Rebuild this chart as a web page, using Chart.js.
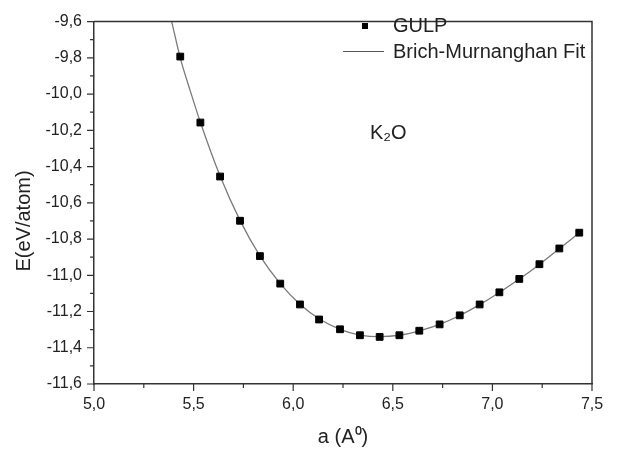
<!DOCTYPE html>
<html>
<head>
<meta charset="utf-8">
<script src="https://cdn.jsdelivr.net/npm/chart.js@4/dist/chart.umd.min.js"></script>
<style>
  html, body { margin: 0; padding: 0; background: #fff; }
  #wrap { width: 617px; height: 455px; }
</style>
</head>
<body>
<div id="wrap"><canvas id="c" width="617" height="455"></canvas></div>
<script>
// GULP points
const latticeA = [5.433, 5.534, 5.633, 5.733, 5.833, 5.935, 6.034, 6.13, 6.235, 6.335, 6.434,
  6.533, 6.633, 6.735, 6.836, 6.936, 7.035, 7.135, 7.236, 7.336, 7.436];
const energy = [-9.793, -10.157, -10.455, -10.699, -10.894, -11.046, -11.161, -11.244, -11.298, -11.331, -11.340,
  -11.331, -11.306, -11.271, -11.221, -11.161, -11.094, -11.020, -10.939, -10.852, -10.765];

// Birch-Murnaghan fit curve
const fitA = [5.39, 5.433, 5.484, 5.534, 5.633, 5.733, 5.833, 5.935, 6.034, 6.134, 6.235, 6.335, 6.434,
  6.533, 6.633, 6.735, 6.836, 6.936, 7.035, 7.135, 7.236, 7.336, 7.44];
const fitE = [-9.60, -9.800, -9.985, -10.155, -10.452, -10.697, -10.893, -11.046, -11.160, -11.243, -11.298, -11.330, -11.339,
  -11.331, -11.307, -11.271, -11.222, -11.162, -11.095, -11.021, -10.940, -10.853, -10.763];

const xMajor = [5.0, 5.5, 6.0, 6.5, 7.0, 7.5];
const yMajor = [-9.6, -9.8, -10.0, -10.2, -10.4, -10.6, -10.8, -11.0, -11.2, -11.4, -11.6];

const FONT = '"Liberation Sans", Arial, sans-serif';
const INK = '#222';

const toXY = (xs, ys) => xs.map((x, i) => ({ x, y: ys[i] }));
const comma = v => Number(v).toFixed(1).replace('.', ',');

const decor = {
  id: 'decor',
  afterDraw(chart) {
    const { ctx, chartArea: a, scales } = chart;
    const sx = scales.x, sy = scales.y;
    ctx.save();
    ctx.strokeStyle = '#333';
    ctx.lineWidth = 1.5;
    // top and right frame
    ctx.beginPath();
    ctx.moveTo(a.left, a.top);
    ctx.lineTo(a.right, a.top);
    ctx.lineTo(a.right, a.bottom);
    ctx.stroke();
    // tick marks, outward
    ctx.lineWidth = 1.2;
    ctx.beginPath();
    xMajor.forEach((v, i) => {
      const p = sx.getPixelForValue(v);
      ctx.moveTo(p, a.bottom); ctx.lineTo(p, a.bottom + 7);
      if (i < xMajor.length - 1) {
        const m = sx.getPixelForValue(v + 0.25);
        ctx.moveTo(m, a.bottom); ctx.lineTo(m, a.bottom + 4);
      }
    });
    yMajor.forEach((v, i) => {
      const p = sy.getPixelForValue(v);
      ctx.moveTo(a.left, p); ctx.lineTo(a.left - 7, p);
      if (i < yMajor.length - 1) {
        const m = sy.getPixelForValue(v - 0.1);
        ctx.moveTo(a.left, m); ctx.lineTo(a.left - 4, m);
      }
    });
    ctx.stroke();

    // axis titles
    ctx.fillStyle = INK;
    ctx.font = '20px ' + FONT;
    ctx.textBaseline = 'middle';
    ctx.textAlign = 'center';
    ctx.fillText('a (A\u2070)', (a.left + a.right) / 2, 437);
    ctx.save();
    ctx.translate(24, 221);
    ctx.rotate(-Math.PI / 2);
    ctx.fillText('E(eV/atom)', 0, 0);
    ctx.restore();

    // legend
    ctx.textAlign = 'left';
    ctx.fillStyle = '#000';
    ctx.fillRect(362, 23, 6, 6);
    ctx.fillStyle = INK;
    ctx.fillText('GULP', 393, 26);
    ctx.strokeStyle = '#555';
    ctx.lineWidth = 1;
    ctx.beginPath();
    ctx.moveTo(343, 51.5); ctx.lineTo(384, 51.5);
    ctx.stroke();
    ctx.fillText('Brich-Murnanghan Fit', 393, 52);

    // compound label
    ctx.font = '20px ' + FONT;
    ctx.fillText('K\u2082O', 370, 133);
    ctx.restore();
  }
};

new Chart(document.getElementById('c'), {
  type: 'scatter',
  data: {
    datasets: [
      {
        label: 'Brich-Murnanghan Fit',
        data: toXY(fitA, fitE),
        showLine: true,
        borderColor: '#7a7a7a',
        borderWidth: 1.3,
        pointRadius: 0,
        cubicInterpolationMode: 'monotone',
        order: 2
      },
      {
        label: 'GULP',
        data: toXY(latticeA, energy),
        pointStyle: 'rect',
        pointRadius: 4.8,
        borderWidth: 1,
        borderColor: '#000',
        backgroundColor: '#000',
        order: 1
      }
    ]
  },
  options: {
    responsive: false,
    animation: false,
    layout: { padding: { top: 15, right: 25, left: 0, bottom: 0 } },
    plugins: {
      legend: { display: false },
      tooltip: { enabled: false }
    },
    scales: {
      x: {
        type: 'linear',
        min: 5.0,
        max: 7.5,
        afterFit(scale) { scale.height = 71; },
        grid: { display: false, drawTicks: false },
        border: { display: true, color: '#333', width: 1.5 },
        ticks: {
          stepSize: 0.5,
          padding: 11,
          color: INK,
          font: { family: FONT, size: 16 },
          callback: v => comma(v)
        }
      },
      y: {
        type: 'linear',
        min: -11.6,
        max: -9.6,
        afterFit(scale) { scale.width = 94; },
        grid: { display: false, drawTicks: false },
        border: { display: true, color: '#333', width: 1.5 },
        ticks: {
          stepSize: 0.2,
          padding: 12,
          color: INK,
          font: { family: FONT, size: 16 },
          callback: v => comma(v)
        }
      }
    }
  },
  plugins: [decor]
});
</script>
</body>
</html>
